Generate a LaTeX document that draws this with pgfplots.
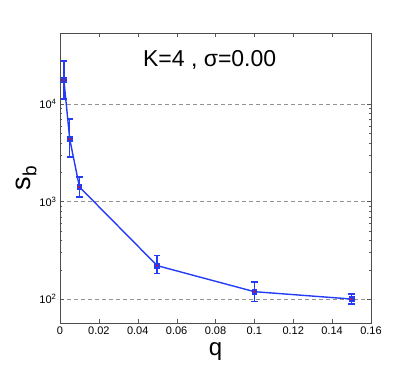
\documentclass[border=0pt]{standalone}
\usepackage{pgfplots}
\pgfplotsset{compat=1.18}
\usepackage{fontspec}
\setmainfont{Liberation Sans}
\definecolor{lineblue}{RGB}{35,60,245}
\pgfplotstableread{
x      y      ep     em
0.002  17600  9900   6300
0.005  4380   2680   1520
0.01   1410   370    300
0.05   220    58     38
0.1    119    31     25
0.15   100    12     11
}\sbdata
\begin{document}
\begin{tikzpicture}
\path (-60pt,-51pt) rectangle (339pt,323pt);
\begin{axis}[
    at={(0,0)}, anchor=south west,
    scale only axis,
    width=311pt, height=290pt,
    xmin=0, xmax=0.16,
    ymode=log,
    ymin=56.8, ymax=53500,
    xtick={0,0.02,...,0.16},
    ytick={100,1000,10000},
    yticklabels={10\textsuperscript{2},10\textsuperscript{3},10\textsuperscript{4}},
    scaled x ticks=false,
    xticklabel style={/pgf/number format/fixed, /pgf/number format/precision=2, font=\fontsize{11}{12}\selectfont},
    yticklabel style={font=\fontsize{11}{12}\selectfont},
    /pgf/number format/assume math mode=true,
    ymajorgrids,
    major grid style={gray!85, dash pattern=on 4pt off 3pt, line width=0.7pt},
    tick style={gray!70!black},
    axis line style={gray!60!black},
    tick align=inside,
    xtick pos=both, ytick pos=both,
    major tick length=4pt, minor tick length=2.5pt,
    xlabel={q}, ylabel={s\raisebox{-0.4ex}{\fontsize{19}{19}\selectfont b}},
    xlabel style={font=\fontsize{24}{26}\selectfont, yshift=-1pt},
    ylabel style={font=\fontsize{27}{28}\selectfont, yshift=-4pt},
    /pgfplots/error bars/error bar style={draw=lineblue, line width=1.5pt, solid},
    /pgfplots/error bars/error mark options={rotate=90, mark size=3.2pt, draw=lineblue, line width=1.5pt},
]
\addplot[color=lineblue, line width=1.4pt,
    mark=square*, mark size=2.4pt,
    mark options={color=lineblue, line width=0.8pt},
    error bars/y dir=both, error bars/y explicit]
table[x=x, y=y, y error plus=ep, y error minus=em] {\sbdata};
\addplot[only marks, mark=*, mark size=0.8pt, mark options={draw=red, fill=red}]
table[x=x, y=y] {\sbdata};
\node[font=\fontsize{23}{25}\selectfont] at (axis cs:0.077,28000) {K=4 , σ=0.00};
\end{axis}
\end{tikzpicture}
\end{document}
